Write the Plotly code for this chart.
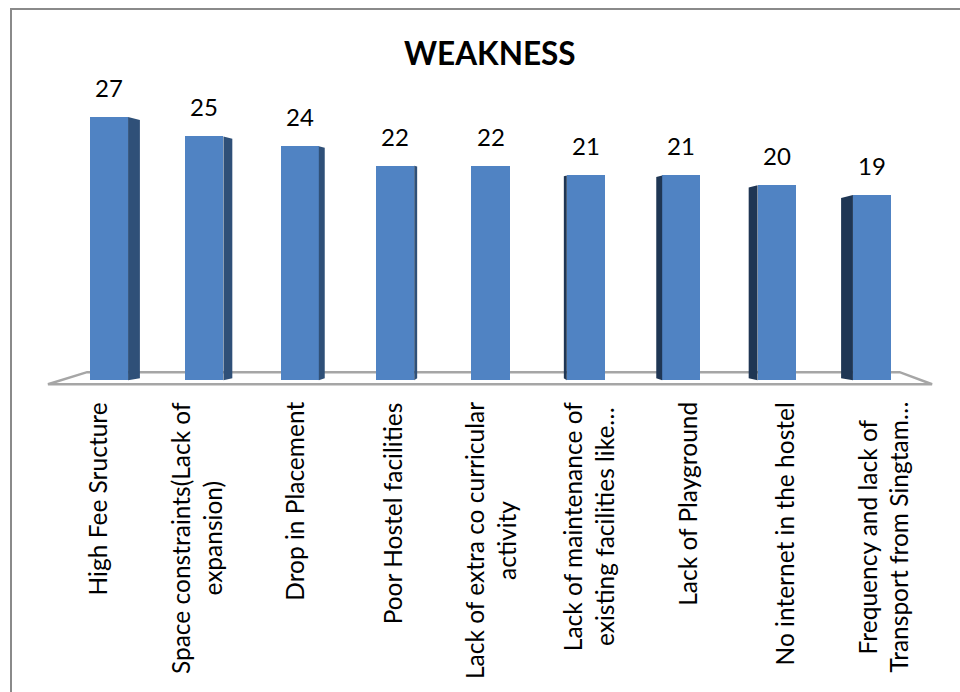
import plotly.graph_objects as go

# Weakness survey: number of responses per item
categories = [
    "High Fee Sructure",
    "Space constraints(Lack of<br>expansion)",
    "Drop in Placement",
    "Poor Hostel facilities",
    "Lack of extra co curricular<br>activity",
    "Lack of maintenance of<br>existing facilities like…",
    "Lack of Playground",
    "No internet in the hostel",
    "Frequency and lack of<br>Transport from Singtam…",
]
values = [27, 25, 24, 22, 22, 21, 21, 20, 19]

W, H = 960, 692
ML, MR, MT, MB = 47, 26, 40, 306
PLOT_W = W - ML - MR
PLOT_H = H - MT - MB
X_RANGE = [-0.65, 8.65]
Y_RANGE = [-0.6, 34.9]

FRONT = "#5083c3"
SIDE_L = "#2f5078"
SIDE_R = "#1f3654"
BAR_W = 0.4
n = len(values)
mid = (n - 1) / 2

def px_to_paper_x(px):
    return (px - ML) / PLOT_W

def px_to_paper_y(py):
    return (H - MB - py) / PLOT_H

fig = go.Figure()
fig.add_trace(go.Bar(
    x=list(range(n)), y=values, width=BAR_W,
    marker=dict(color=FRONT, line=dict(width=0)),
    hoverinfo="skip", showlegend=False,
))

shapes = []
# 3D floor under the columns
shapes.append(dict(
    type="path", xref="x", yref="y", layer="below",
    path="M -0.64,-0.42 L -0.23,0.82 L 8.29,0.82 L 8.63,-0.42 Z",
    line=dict(color="#a6a6a6", width=2.5), fillcolor="white",
))
# side faces give the columns depth (perspective toward the centre)
for i, v in enumerate(values):
    k = mid - i
    if abs(k) < 0.01:
        continue
    s = 0.031 * abs(k)
    drop = 0.08 * abs(k)
    if k > 0:
        x0 = i + BAR_W / 2
        x1 = x0 + s
        col = SIDE_L
    else:
        x0 = i - BAR_W / 2
        x1 = x0 - s
        col = SIDE_R
    shapes.append(dict(
        type="path", xref="x", yref="y", layer="above",
        path=f"M {x0},0 L {x1},0.2 L {x1},{v - drop} L {x0},{v} Z",
        line=dict(width=0), fillcolor=col,
    ))
# outer frame of the chart area
shapes.append(dict(
    type="rect", xref="paper", yref="paper", layer="above",
    x0=px_to_paper_x(11), x1=px_to_paper_x(980),
    y0=px_to_paper_y(720), y1=px_to_paper_y(9),
    line=dict(color="#8a8a8a", width=2), fillcolor="rgba(0,0,0,0)",
))

annotations = []
for i, v in enumerate(values):
    annotations.append(dict(
        x=i, y=v, xref="x", yref="y", text=str(v), showarrow=False,
        yanchor="bottom", yshift=13,
        font=dict(family="Lato", size=24, color="black"),
    ))
for i, c in enumerate(categories):
    annotations.append(dict(
        x=mid + (i - mid) * 1.029, y=px_to_paper_y(400),
        xref="x", yref="paper", text=c, showarrow=False,
        textangle=-90, align="center", xanchor="center", yanchor="top",
        font=dict(family="Lato", size=24.5, color="black"),
    ))
annotations.append(dict(
    x=px_to_paper_x(490), y=px_to_paper_y(53), xref="paper", yref="paper",
    text="<b>WEAKNESS</b>", showarrow=False, xanchor="center", yanchor="middle",
    font=dict(family="Lato", size=31.5, color="black"),
))

fig.update_layout(
    width=W, height=H,
    margin=dict(l=ML, r=MR, t=MT, b=MB, pad=0),
    paper_bgcolor="white", plot_bgcolor="white",
    xaxis=dict(range=X_RANGE, visible=False, fixedrange=True),
    yaxis=dict(range=Y_RANGE, visible=False, fixedrange=True),
    shapes=shapes, annotations=annotations,
    bargap=0,
)

fig.write_html("out.html")
